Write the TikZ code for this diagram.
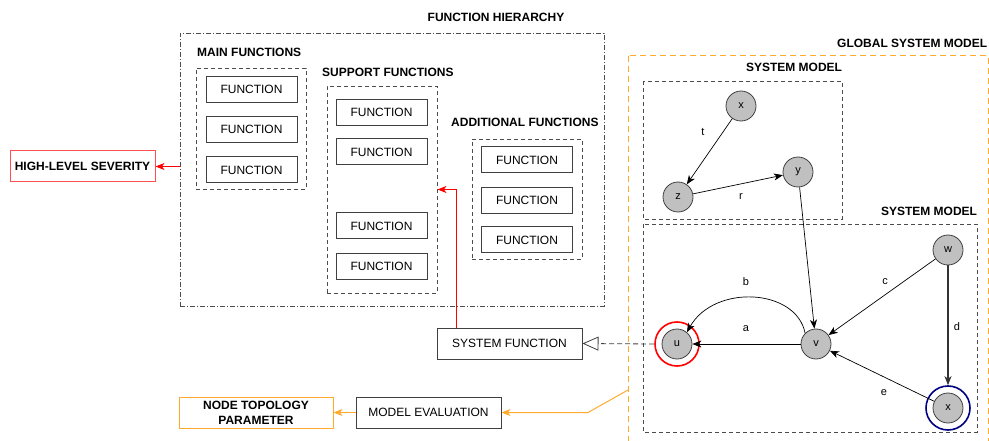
\documentclass[tikz,border=0pt]{standalone}
\usepackage{fontspec}
\setmainfont{Liberation Sans}
\usetikzlibrary{arrows.meta}
\definecolor{gsmorange}{RGB}{255,170,45}
\definecolor{hlsred}{RGB}{255,80,80}
\definecolor{ringblue}{RGB}{0,0,128}
\definecolor{vtxgray}{RGB}{192,192,192}
\begin{document}
\begin{tikzpicture}[x=1pt,y=-1pt,
  every node/.style={inner sep=0pt},
  fnbox/.style={draw=black!75, line width=1pt, minimum width=91pt, minimum height=26pt, font=\fontsize{12}{14}\selectfont},
  wbox/.style={draw=black!75, line width=1pt, minimum width=145pt, minimum height=31pt, font=\fontsize{12}{14}\selectfont},
  grpbox/.style={draw=black!70, line width=0.9pt, dash pattern=on 4pt off 3pt},
  hierbox/.style={draw=black!70, line width=0.9pt, dash pattern=on 5pt off 2pt on 1pt off 2pt},
  grplabel/.style={font=\bfseries\fontsize{12}{14}\selectfont},
  vtx/.style={circle, draw=black!75, fill=vtxgray, line width=0.8pt, minimum size=30pt, font=\fontsize{11}{12}\selectfont},
  ring/.style={circle, line width=1.6pt, minimum size=44pt},
  elabel/.style={font=\fontsize{11}{12}\selectfont},
  edge/.style={line width=0.7pt, -{Stealth[length=9pt,width=7pt,inset=2.5pt]}},
  redarrow/.style={red, line width=1pt, -{Stealth[length=9pt,width=7pt,inset=2.5pt]}},
  orarrow/.style={gsmorange, line width=1pt, -{Stealth[length=9pt,width=7pt,inset=2.5pt]}}
]
\useasboundingbox (0,0) rectangle (989,441);

% ---- function hierarchy ----
\node[grplabel] (hierlbl) at (496,17) {FUNCTION HIERARCHY};
\node[hierbox, minimum width=424pt, minimum height=273pt] (hier) at (392,169.5) {};

\node[grplabel, anchor=west] (mainlbl) at (197,52) {MAIN FUNCTIONS};
\node[grpbox, minimum width=110pt, minimum height=121pt] (main) at (251,128.5) {};
\node[fnbox] (m1) at (251.5,89.5) {FUNCTION};
\node[fnbox] (m2) at (251.5,129.5) {FUNCTION};
\node[fnbox] (m3) at (251.5,170) {FUNCTION};

\node[grplabel, anchor=west] (suplbl) at (322,72) {SUPPORT FUNCTIONS};
\node[grpbox, minimum width=110pt, minimum height=207pt] (support) at (382,189.5) {};
\node[fnbox] (s1) at (381.5,112.5) {FUNCTION};
\node[fnbox] (s2) at (381.5,152) {FUNCTION};
\node[fnbox] (s3) at (381.5,226) {FUNCTION};
\node[fnbox] (s4) at (381.5,266.5) {FUNCTION};

\node[grplabel, anchor=west] (addlbl) at (451,122) {ADDITIONAL FUNCTIONS};
\node[grpbox, minimum width=110pt, minimum height=120pt] (additional) at (527,199) {};
\node[fnbox] (a1) at (527,160) {FUNCTION};
\node[fnbox] (a2) at (527,200.5) {FUNCTION};
\node[fnbox] (a3) at (527,240) {FUNCTION};

% ---- outputs ----
\node[draw=hlsred, line width=1pt, minimum width=145pt, minimum height=31pt, grplabel] (hls) at (82.5,166.5) {HIGH-LEVEL SEVERITY};
\node[wbox] (sysfn) at (509.5,343.5) {SYSTEM FUNCTION};
\node[wbox] (modeval) at (428.5,412.5) {MODEL EVALUATION};
\node[draw=gsmorange, line width=1pt, minimum width=154pt, minimum height=31pt, grplabel, align=center,
      font=\bfseries\fontsize{12}{15}\selectfont] (ntp) at (256,412.5) {NODE TOPOLOGY\\PARAMETER};

% ---- global system model ----
\node[grplabel, anchor=west] (gsmlbl) at (837,43) {GLOBAL SYSTEM MODEL};
\draw[gsmorange, line width=1pt, dash pattern=on 6pt off 4pt] (628,56) rectangle (988,470);
\coordinate (gsmexit) at (628,390);

\node[grplabel] (sm1lbl) at (794,67) {SYSTEM MODEL};
\draw[grpbox] (643,81) rectangle (842,219);
\node[grplabel] (sm2lbl) at (929,211) {SYSTEM MODEL};
\draw[grpbox] (643,224) rectangle (977,432);

% vertices
\node[vtx] (x1) at (741,106) {x};
\node[vtx] (y)  at (798,172) {y};
\node[vtx] (z)  at (678,197) {z};
\node[vtx] (w)  at (948,250) {w};
\node[vtx] (v)  at (816,344) {v};
\node[vtx] (u)  at (677,344) {u};
\node[ring, draw=red] (uring) at (u) {};
\node[vtx] (x2) at (948,408) {x};
\node[ring, draw=ringblue] (x2ring) at (x2) {};

% edges
\draw[edge] (x1) -- (z);
\node[elabel] (lt) at (703,132) {t};
\draw[edge] (z) -- (y);
\node[elabel] (lr) at (741,197) {r};
\draw[edge] (y) -- (v);
\draw[edge] (w) -- (v);
\node[elabel] (lc) at (885,282) {c};
\draw[edge, line width=1.3pt, draw=black!80] (w) -- (x2ring);
\node[elabel] (ld) at (957,327) {d};
\draw[edge] (x2) -- (v);
\node[elabel] (le) at (884,393) {e};
\draw[edge] (v) -- (u);
\node[elabel] (la) at (746,329) {a};
\draw[edge] (v.135) .. controls (796,288) and (714,284) .. (u.50);
\node[elabel] (lb) at (746,282) {b};

% ---- connections ----
\draw[black!75, line width=0.8pt, dash pattern=on 5pt off 3pt,
      -{Triangle[open,length=16pt,width=14pt]}] (uring.west) -- (sysfn.east);
\draw[redarrow] ([xshift=20pt]sysfn.north west) |- (support.east);
\draw[redarrow] (hier.west |- hls.east) -- (hls.east);
\coordinate (bend) at (588,412.5);
\draw[orarrow] (gsmexit) -- (bend) -- (modeval.east);
\draw[orarrow] (modeval.west) -- (ntp.east);
\end{tikzpicture}
\end{document}
